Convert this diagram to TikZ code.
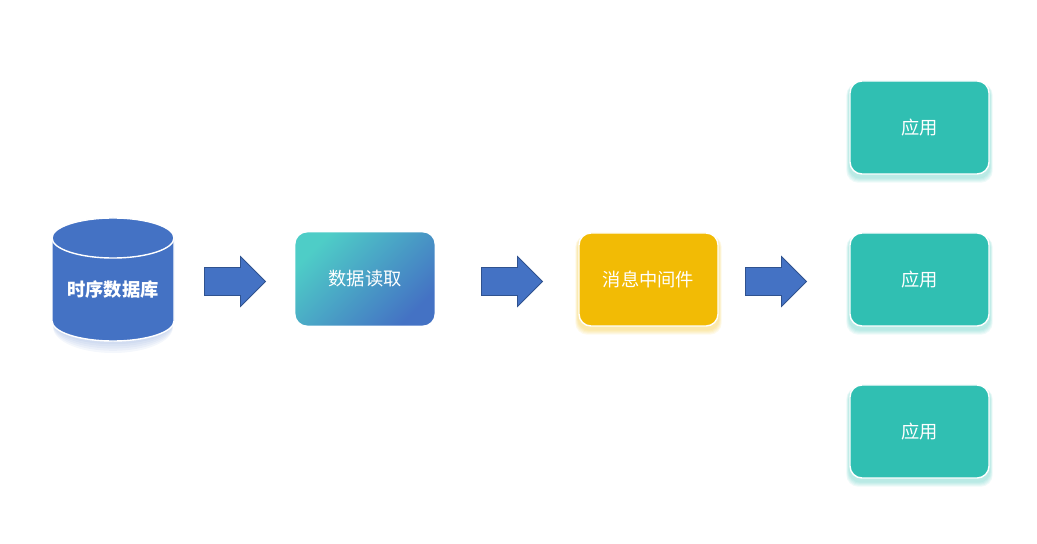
\documentclass[tikz,border=0pt]{standalone}
\usepackage{fontspec}
\newfontfamily\cjk{Noto Sans CJK SC}
\usetikzlibrary{shapes.arrows, backgrounds, calc}
\definecolor{dbblue}{HTML}{4472C4}
\definecolor{arrowline}{HTML}{2F528F}
\definecolor{readteal}{HTML}{4ECDC7}
\definecolor{mqgold}{HTML}{F2BB05}
\definecolor{appteal}{HTML}{30BFB2}
\tikzset{
  flowarrow/.style = {single arrow, fill=dbblue, draw=arrowline, line width=0.6pt,
                      minimum height=1.525cm, inner xsep=0pt, inner ysep=0.3375cm,
                      single arrow head extend=0.275cm, single arrow tip angle=90,
                      anchor=west},
  stepbox/.style   = {rounded corners=0.3cm, minimum width=3.475cm, minimum height=2.325cm,
                      inner sep=0pt, text=white, font=\cjk\fontsize{13}{15}\selectfont},
  appbox/.style    = {stepbox, fill=appteal, draw=white, line width=1pt},
  mqbox/.style     = {stepbox, fill=mqgold, draw=white, line width=1pt},
  cylside/.style   = {fill=dbblue, draw=white, line width=1pt},
}
\begin{document}
\begin{tikzpicture}[x=0.025cm, y=-0.025cm]
  \useasboundingbox (0,0) rectangle (1037,544);
  % database cylinder
  \foreach \r in {1,...,5}{
    \fill[dbblue!80, opacity=0.07] (113,322+\r) ellipse [x radius=1.5cm, y radius=0.5cm+\r*0.03cm];}
  \path[cylside] (52,238) -- (52,321)
    arc[start angle=180, end angle=360, x radius=1.525cm, y radius=0.5cm]
    -- (174,238)
    arc[start angle=0, end angle=180, x radius=1.525cm, y radius=0.5cm] -- cycle;
  \path[cylside] (113,238) ellipse [x radius=1.525cm, y radius=0.5cm];
  \node[text=white, font=\cjk\bfseries\fontsize{13}{15}\selectfont] (db) at (113,290) {时序数据库};
  % pipeline
  \node[flowarrow] (a1) at (204,281.5) {};
  \node[stepbox, left color=readteal, right color=dbblue, shading angle=45] (read) at (365,279) {数据读取};
  \node[flowarrow] (a2) at (481,281.5) {};
  \node[mqbox] (mq) at (648.5,279.5) {消息中间件};
  \node[flowarrow] (a3) at (745,281.5) {};
  \node[appbox] (app1) at (919.5,127.5) {应用};
  \node[appbox] (app2) at (919.5,279.5) {应用};
  \node[appbox] (app3) at (919.5,431.5) {应用};
  % soft glows
  \begin{scope}[on background layer]
    \foreach \n/\c in {mq/mqgold, app1/appteal, app2/appteal, app3/appteal}{
      \foreach \r in {1,...,5}{
        \fill[\c, opacity=0.08, rounded corners=0.3cm]
          ($(\n.north west)+(-\r*0.6,3)$) rectangle ($(\n.south east)+(\r*0.6,3+\r)$);}}
  \end{scope}
\end{tikzpicture}
\end{document}
